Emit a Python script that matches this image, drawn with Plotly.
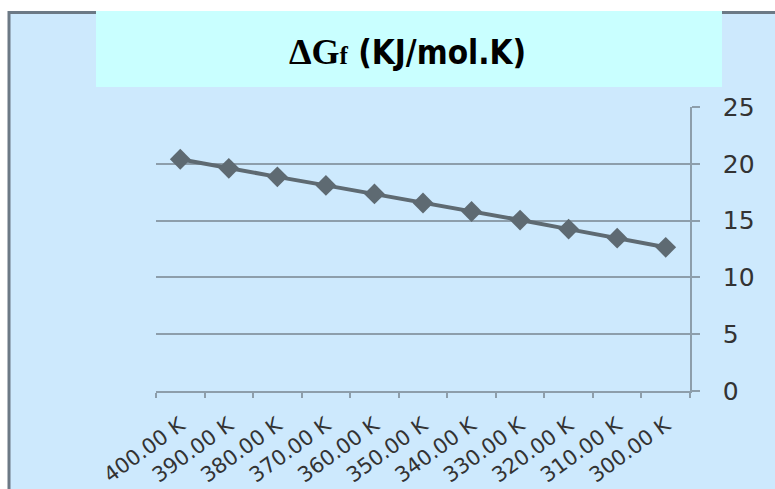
import plotly.graph_objects as go

categories = ["400.00 K", "390.00 K", "380.00 K", "370.00 K", "360.00 K", "350.00 K",
              "340.00 K", "330.00 K", "320.00 K", "310.00 K", "300.00 K"]
delta_gf = [20.4, 19.6, 18.85, 18.1, 17.35, 16.55, 15.8, 15.05, 14.25, 13.45, 12.65]
y_ticks = [0, 5, 10, 15, 20, 25]

W, H = 775, 489
L, R, T, B = 156, 85, 107, 98
pw, ph = W - L - R, H - T - B

def px(x):
    return (x - L) / pw

def py(y):
    return (H - B - y) / ph

BG = "#CDE9FD"
GRID = "#8D9EAB"
MARK = "#5E6A72"

fig = go.Figure()
fig.add_trace(go.Scatter(
    x=categories, y=delta_gf, mode="lines+markers",
    line=dict(color=MARK, width=4),
    marker=dict(symbol="diamond", size=16, color=MARK),
    showlegend=False, hoverinfo="skip", cliponaxis=False,
))

fig.update_layout(
    width=W, height=H,
    margin=dict(l=L, r=R, t=T, b=B, autoexpand=False),
    paper_bgcolor="white",
    plot_bgcolor=BG,
    shapes=[
        dict(type="rect", xref="paper", yref="paper", layer="below",
             x0=px(9), x1=px(790), y0=py(500), y1=py(12.5),
             fillcolor=BG, line=dict(color="#6C7985", width=3)),
        dict(type="rect", xref="paper", yref="paper", layer="below",
             x0=px(96), x1=px(722), y0=py(87), y1=py(11),
             fillcolor="#C9FFFF", line=dict(width=0)),
    ],
    annotations=[
        dict(xref="paper", yref="paper", x=px(407), y=py(52),
             xanchor="center", yanchor="middle", showarrow=False,
             text=('<b><span style="font-family:Liberation Serif;font-size:36px">ΔG</span>'
                   '<span style="font-family:Liberation Serif;font-size:25px">f</span>'
                   ' (KJ/mol.K)</b>'),
             font=dict(family="DejaVu Sans Condensed, Liberation Sans", size=33, color="#000000")),
    ],
    xaxis=dict(
        type="category", tickson="boundaries", automargin=False,
        range=[-0.5, len(categories) - 0.5],
        ticks="outside", ticklen=5, tickcolor=GRID, tickwidth=1.5,
        showline=True, linecolor=GRID, linewidth=1.5,
        showgrid=False, tickangle=-36, ticklabelstandoff=12,
        tickfont=dict(family="DejaVu Sans", size=21, color="#333333"),
    ),
    yaxis=dict(
        side="right", range=[0, 25], tickvals=y_ticks, automargin=False,
        showgrid=True, gridcolor=GRID, gridwidth=1.5,
        ticks="outside", ticklen=8, tickcolor=GRID, tickwidth=1.5,
        showline=True, linecolor=GRID, linewidth=1.5,
        zeroline=False, ticklabelstandoff=18,
        tickfont=dict(family="DejaVu Sans", size=25, color="#333333"),
    ),
)

fig.write_html("out.html")
